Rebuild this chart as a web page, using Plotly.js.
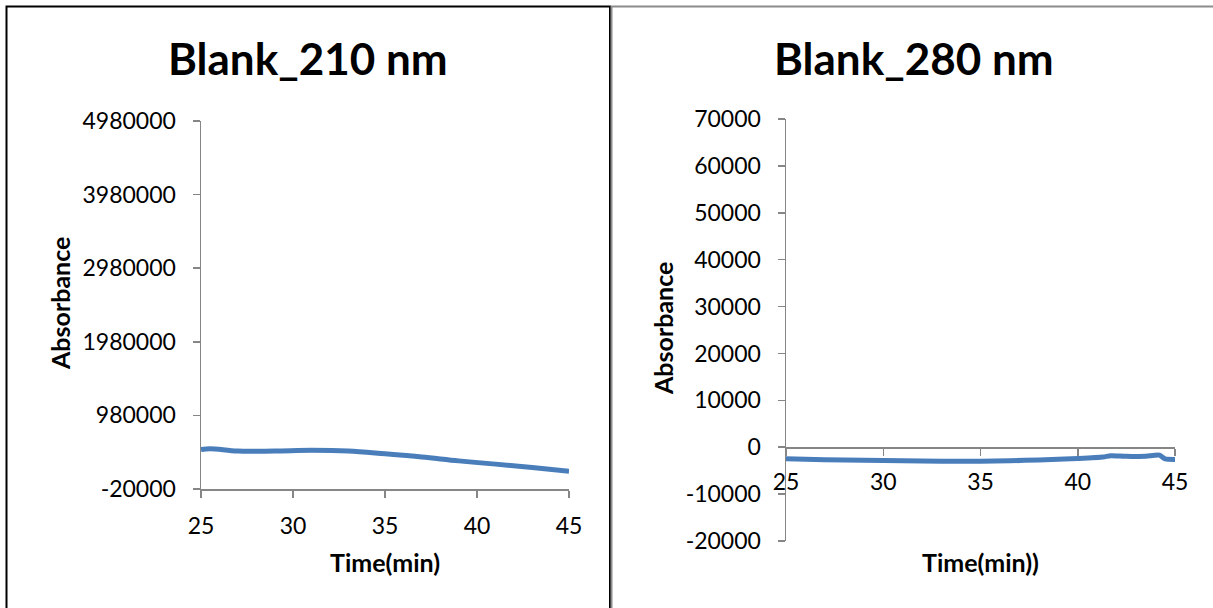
<!DOCTYPE html>
<html>
<head>
<meta charset="utf-8">
<script src="https://cdn.plot.ly/plotly-3.0.1.min.js"></script>
<style>
  html, body { margin: 0; padding: 0; background: #ffffff; }
  #chart { width: 1213px; height: 608px; }
</style>
</head>
<body>
<div id="chart"></div>
<script>
// ---- Data ----
const time210 = [25, 25.5, 27, 29, 31, 33, 35, 37, 39, 41, 43, 45];
const abs210  = [517000, 528000, 495000, 496000, 505000, 496000, 458000, 415000, 362000, 318000, 272000, 222000];

const time280 = [25, 27, 29, 31, 33, 35, 36.5, 38, 40, 41.3, 41.7, 42.5, 43.5, 44.2, 44.5, 45];
const abs280  = [-2470, -2650, -2800, -2900, -3000, -3000, -2900, -2700, -2400, -2100, -1800, -1950, -1900, -1700, -2500, -2600];

const title210 = "Blank_210 nm";
const title280 = "Blank_280 nm";
const yTitle = "Absorbance";
const xTitle210 = "Time(min)";
const xTitle280 = "Time(min))";

const yTicks210 = [-20000, 980000, 1980000, 2980000, 3980000, 4980000];
const yTicks280 = [-20000, -10000, 0, 10000, 20000, 30000, 40000, 50000, 60000, 70000];
const xTicks = [25, 30, 35, 40, 45];

// ---- Styling ----
const W = 1213, H = 608;
const px = v => v / W;
const py = v => 1 - v / H;
const FONT = "Lato, 'Open Sans', sans-serif";
const axisColor = "#868686";
const lineColor = "#4a7ebb";

const tickFont = { family: FONT, size: 23, color: "#000000" };

const baseAxis = {
  showgrid: false,
  zeroline: false,
  showline: true,
  linecolor: axisColor,
  linewidth: 1.5,
  ticks: "outside",
  ticklen: 7,
  tickcolor: axisColor,
  tickwidth: 1.5,
  tickfont: tickFont,
  fixedrange: true
};

const traces = [
  {
    x: time210, y: abs210, type: "scatter", mode: "lines",
    line: { color: lineColor, width: 5, shape: "spline", smoothing: 1.0 },
    xaxis: "x", yaxis: "y", hoverinfo: "skip", showlegend: false
  },
  {
    x: time280, y: abs280, type: "scatter", mode: "lines",
    line: { color: lineColor, width: 5, shape: "spline", smoothing: 0.6 },
    xaxis: "x2", yaxis: "y2", hoverinfo: "skip", showlegend: false
  }
];

function ann(text, x, y, size, angle) {
  return { text: "<b>" + text + "</b>", x: px(x), y: py(y), xref: "paper", yref: "paper",
    xanchor: "center", yanchor: "middle", textangle: angle || 0, showarrow: false,
    font: { family: FONT, size: size, color: "#000" } };
}

const layout = {
  width: W, height: H,
  margin: { l: 0, r: 0, t: 0, b: 0 },
  paper_bgcolor: "#ffffff",
  plot_bgcolor: "rgba(0,0,0,0)",
  showlegend: false,
  xaxis: Object.assign({}, baseAxis, {
    domain: [px(201), px(569)], anchor: "y",
    range: [25, 45], tickvals: xTicks, ticklabelstandoff: 9
  }),
  yaxis: Object.assign({}, baseAxis, {
    domain: [py(489), py(121)], anchor: "x",
    range: [-20000, 4980000], tickvals: yTicks210,
    ticktext: yTicks210.map(String), ticklabelstandoff: 12
  }),
  xaxis2: Object.assign({}, baseAxis, {
    domain: [px(786), px(1175)], anchor: "free", position: py(447),
    range: [25, 45], tickvals: xTicks, ticklabelstandoff: 7
  }),
  yaxis2: Object.assign({}, baseAxis, {
    domain: [py(541), py(119)], anchor: "x2",
    range: [-20000, 70000], tickvals: yTicks280,
    ticktext: yTicks280.map(String), ticklabelstandoff: 12
  }),
  annotations: [
    ann(title210, 308, 58, 44),
    ann(title280, 914, 58, 44),
    ann(yTitle, 60, 304, 25, -90),
    ann(yTitle, 663, 329, 25, -90),
    ann(xTitle210, 385, 562, 25),
    ann(xTitle280, 980, 562, 25)
  ],
  shapes: [
    { type: "rect", xref: "paper", yref: "paper",
      x0: px(6.5), x1: px(610), y0: py(620), y1: py(6.5),
      line: { color: "#000000", width: 2 }, layer: "below" },
    { type: "rect", xref: "paper", yref: "paper",
      x0: px(611.5), x1: px(1230), y0: py(620), y1: py(6.5),
      line: { color: "#8c8c8c", width: 2 }, layer: "below" }
  ]
};

Plotly.newPlot("chart", traces, layout, { staticPlot: true, displayModeBar: false });
</script>
</body>
</html>
